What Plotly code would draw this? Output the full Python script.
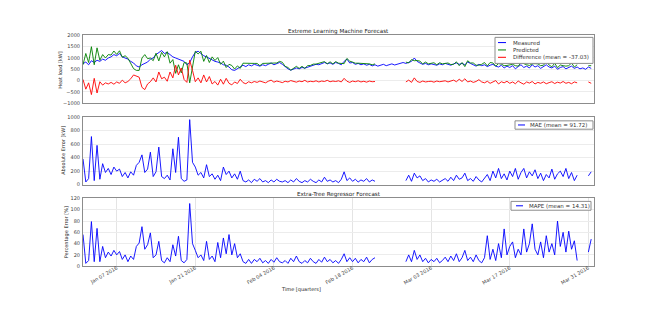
import pandas as pd
import plotly.graph_objects as go

N = None
# values sampled every 12 hours starting 2016-01-01 00:00
measured = [750,820,700,880,800,900,850,950,900,1000,
1050,1150,1100,1200,1050,1000,950,850,780,650,
600,700,750,820,950,1000,1150,1250,1330,1200,
1250,1150,1050,1000,950,900,850,700,800,1050,
1250,1300,1200,1100,1050,980,900,850,820,780,
700,680,600,480,450,520,600,680,620,700,
650,720,680,640,700,660,720,780,700,760,
800,720,600,520,460,500,560,520,580,550,
600,640,680,720,700,760,800,750,780,720,
800,760,700,850,950,780,800,720,760,700,
740,680,720,650,700,640,680,720,660,700,
740,690,720,760,800,760,800,850,1000,850,
780,720,760,700,740,720,680,740,700,760,
720,680,740,780,720,760,700,820,760,700,
640,720,660,700,620,680,720,640,600,680,
560,640,580,660,520,620,700,580,640,560,
700,600,660,540,620,700,600,560,640,500,
580,620,520,580,640,540,600,520,560,500,
600,540]

predicted = [700,1200,800,1500,700,1450,900,1150,1000,1150,
1130,1310,1160,1320,1030,1100,990,770,530,450,
450,1000,1150,970,1000,880,1210,870,1250,1050,
1280,770,930,320,700,340,800,780,-100,600,
1300,1180,1300,850,1110,800,1050,890,1020,720,
860,580,720,670,510,650,540,770,760,750,
750,760,760,660,760,760,750,760,770,780,
850,810,630,580,460,540,630,540,630,540,
660,670,730,730,760,780,840,740,830,740,
840,770,760,750,980,860,820,770,770,760,
770,750,740,700,740,N,N,N,N,N,
N,N,N,N,N,820,780,930,880,890,
860,740,820,740,770,790,700,790,740,770,
780,710,720,830,660,800,620,880,780,780,
680,680,720,800,650,800,780,640,750,730,
660,670,700,720,660,640,800,740,700,670,
740,750,740,660,680,840,690,610,770,570,
690,660,640,660,780,600,700,N,N,N,
660,660]

difference = [50,-380,-100,-620,100,-550,-50,-200,-100,-150,
-80,-160,-60,-120,20,-100,-40,80,250,200,
150,-300,-400,-150,-50,120,-60,380,80,150,
-30,380,120,680,250,560,50,-80,900,450,
-50,120,-100,250,-60,180,-150,-40,-200,60,
-160,100,-120,-190,-60,-130,60,-90,-140,-50,
-100,-40,-80,-20,-60,-100,-30,20,-70,-20,
-50,-90,-30,-60,0,-40,-70,-20,-50,10,
-60,-30,-50,-10,-60,-20,-40,10,-50,-20,
-40,-10,-60,100,-30,-80,-20,-50,-10,-60,
-30,-70,-20,-50,-40,N,N,N,N,N,
N,N,N,N,N,-60,20,-80,120,-40,
-80,-20,-60,-40,-30,-70,-20,-50,-40,-10,
-60,-30,20,-50,60,-40,80,-60,-20,-80,
-40,40,-60,-100,-30,-120,-60,0,-150,-50,
-100,-30,-120,-60,-140,-20,-100,-160,-60,-110,
-40,-150,-80,-120,-60,-140,-90,-50,-130,-70,
-110,-40,-120,-80,-140,-60,-100,N,N,N,
-60,-120]

mae = [380,40,90,710,60,580,80,310,180,240,
150,260,200,230,120,180,100,190,140,285,
330,440,180,230,480,120,190,555,120,90,
140,70,530,180,700,90,50,70,960,330,
260,140,180,100,295,120,160,80,140,60,
260,150,200,100,160,80,200,60,40,70,
30,80,50,90,40,60,30,70,40,80,
50,40,60,30,70,40,90,50,30,60,
40,80,50,30,70,40,110,50,70,40,
60,30,80,190,60,100,50,80,40,70,
50,90,40,70,50,N,N,N,N,N,
N,N,N,N,N,60,140,50,170,100,
130,60,90,40,70,50,80,40,60,90,
50,110,60,140,80,100,170,60,90,50,
120,70,40,90,150,60,200,100,240,90,
160,70,200,120,240,80,180,240,100,190,
130,220,90,170,60,150,100,230,80,160,
200,120,240,90,180,60,140,N,N,N,
130,190]

mape = [56,5,10,79,8,67,8,35,15,25,
18,28,20,26,12,20,8,18,12,35,
41,70,30,38,59,15,20,44,10,6,
15,8,38,18,53,10,6,12,111,40,
28,15,20,10,44,12,18,8,42,15,
50,22,56,20,40,15,22,8,5,12,
5,12,8,14,6,10,5,12,7,15,
8,6,10,5,14,8,18,8,5,10,
6,14,8,5,12,7,16,8,12,6,
10,5,12,22,8,15,8,14,6,12,
8,16,6,12,15,N,N,N,N,N,
N,N,N,N,N,8,20,8,28,12,
20,8,14,6,12,8,14,6,10,16,
8,18,10,22,8,15,28,10,16,8,
20,10,6,15,54,12,30,10,40,15,
66,20,35,43,15,30,20,66,25,40,
75,30,20,43,15,54,25,40,20,80,
35,60,25,62,30,45,10,N,N,N,
25,48]

tick_dates = ["2016-01-07", "2016-01-21", "2016-02-04", "2016-02-18",
              "2016-03-03", "2016-03-17", "2016-03-31"]
tick_labels = ["Jan 07 2016", "Jan 21 2016", "Feb 04 2016", "Feb 18 2016",
               "Mar 03 2016", "Mar 17 2016", "Mar 31 2016"]

t = pd.date_range("2016-01-01", periods=len(measured), freq="12h")

BLUE, GREEN, RED = "#0000ff", "#008000", "#ff0000"
FONT = "DejaVu Sans"
W, H = 660, 335

fig = go.Figure()
lw = 0.9
series = [
    ("Measured", measured, BLUE, "x", "y"),
    ("Predicted", predicted, GREEN, "x", "y"),
    ("Difference (mean = -37.03)", difference, RED, "x", "y"),
    ("MAE (mean = 91.72)", mae, BLUE, "x2", "y2"),
    ("MAPE (mean = 14.31)", mape, BLUE, "x3", "y3"),
]
for name, vals, col, xa, ya in series:
    fig.add_trace(go.Scatter(x=t, y=vals, mode="lines", name=name,
                             line=dict(color=col, width=lw), xaxis=xa, yaxis=ya,
                             showlegend=False))

def py(p):
    return 1 - p / H

xdom = [83 / W, 594 / W]
xrange_ = ["2016-01-01", "2016-04-01"]
axis_common = dict(showline=True, linecolor="#8c8c8c", linewidth=1, mirror=True,
                   zeroline=False, tickfont=dict(size=5, color="#444"), ticks="")

def xaxis(anchor, show_labels, grid):
    d = dict(axis_common, domain=xdom, anchor=anchor, range=xrange_, type="date",
             tickvals=tick_dates, ticktext=tick_labels, showgrid=grid,
             gridcolor="#e4e4e4", gridwidth=1, showticklabels=show_labels)
    if show_labels:
        d["tickangle"] = -30
        d["ticklabelstandoff"] = -4
    return d

def yaxis(anchor, dom, rng, dtick):
    return dict(axis_common, domain=dom, anchor=anchor, range=rng, dtick=dtick,
                showgrid=True, gridcolor="#ececec", gridwidth=1, ticklabelstandoff=1)

fig.update_layout(
    width=W, height=H, margin=dict(l=0, r=0, t=0, b=0),
    paper_bgcolor="white", plot_bgcolor="white",
    font=dict(family=FONT, size=5.5, color="#333"),
    xaxis=xaxis("y", False, False),
    xaxis2=xaxis("y2", False, False),
    xaxis3=xaxis("y3", True, True),
    yaxis=yaxis("x", [py(102), py(33)], [-1000, 2000], 500),
    yaxis2=yaxis("x2", [py(185), py(116)], [0, 1000], 200),
    yaxis3=yaxis("x3", [py(268), py(199)], [0, 120], 20),
    showlegend=False,
)

# manual legends (matplotlib-style compact boxes), positions in pixels
legends = [
    dict(box=(495, 35, 593, 61.5),
         items=[("Measured", BLUE, 40.3), ("Predicted", GREEN, 47.8),
                ("Difference (mean = -37.03)", RED, 55.3)],
         line_x=(498, 506), text_x=511),
    dict(box=(515, 120, 593, 128.5),
         items=[("MAE (mean = 91.72)", BLUE, 124.2)],
         line_x=(518, 525), text_x=528),
    dict(box=(511, 202, 591, 211),
         items=[("MAPE (mean = 14.31)", BLUE, 206.5)],
         line_x=(516, 523), text_x=527),
]
for lg in legends:
    x0, y0, x1, y1 = lg["box"]
    fig.add_shape(type="rect", xref="paper", yref="paper", x0=x0 / W, x1=x1 / W,
                  y0=py(y1), y1=py(y0), line=dict(color="#8c8c8c", width=1),
                  fillcolor="white", layer="above")
    for text, col, yy in lg["items"]:
        fig.add_shape(type="line", xref="paper", yref="paper",
                      x0=lg["line_x"][0] / W, x1=lg["line_x"][1] / W, y0=py(yy), y1=py(yy),
                      line=dict(color=col, width=1), layer="above")
        fig.add_annotation(text=text, x=lg["text_x"] / W, y=py(yy), xref="paper", yref="paper",
                           showarrow=False, xanchor="left", yanchor="middle",
                           font=dict(size=5.5, family=FONT, color="#333"))

ann = [
    dict(text="Extreme Learning Machine Forecast", x=338.5 / W, y=py(29), size=5.6, angle=0),
    dict(text="Extra-Tree Regressor Forecast", x=338.5 / W, y=py(195), size=5.6, angle=0),
    dict(text="Heat load [kW]", x=60.5 / W, y=py(67.5), size=5, angle=-90),
    dict(text="Absolute Error [kW]", x=63 / W, y=py(150.5), size=5, angle=-90),
    dict(text="Percentage Error [%]", x=66 / W, y=py(233.5), size=5, angle=-90),
    dict(text="Time [quarters]", x=300.5 / W, y=py(292), size=5, angle=0),
]
for a in ann:
    fig.add_annotation(text=a["text"], x=a["x"], y=a["y"], xref="paper", yref="paper",
                       showarrow=False, textangle=a["angle"], xanchor="center", yanchor="middle",
                       font=dict(size=a["size"], family=FONT, color="#222"))

fig.write_html("out.html")
